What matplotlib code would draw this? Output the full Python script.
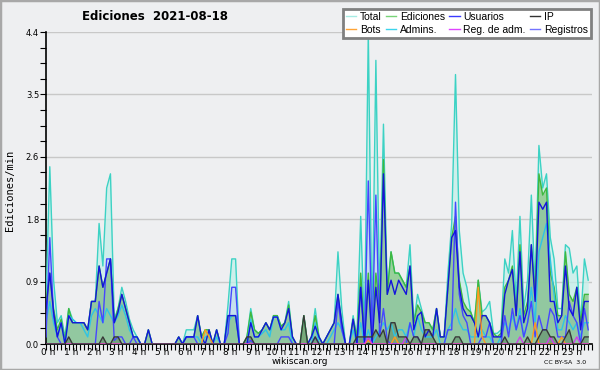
import matplotlib
matplotlib.use("Agg")
import matplotlib.pyplot as plt
import numpy as np
from matplotlib.lines import Line2D
from matplotlib.patches import Rectangle

# ---------------------------------------------------------------------------
# Data: edits per minute, 10-minute bins (6 per hour, 144 per day)
# ---------------------------------------------------------------------------
total = [
    0.6, 2.5, 0.9, 0.3, 0.4, 0.1,   0.5, 0.35, 0.3, 0.3, 0.3, 0.2,
    0.6, 0.6, 1.7, 1.1, 2.2, 2.4,   0.35, 0.5, 0.8, 0.6, 0.35, 0.2,
    0.1, 0, 0, 0.2, 0, 0,           0, 0, 0, 0, 0, 0.1,
    0, 0.2, 0.2, 0.2, 0.4, 0.1,     0.2, 0.2, 0, 0.2, 0, 0,
    0.55, 1.2, 1.2, 0, 0, 0.1,      0.5, 0.2, 0.15, 0.2, 0.3, 0.2,
    0.4, 0.4, 0.25, 0.3, 0.6, 0.1,  0, 0, 0.4, 0, 0.1, 0.5,
    0.1, 0, 0.1, 0.2, 0.3, 1.3,     0.5, 0, 0, 0.4, 0.1, 1.8,
    0.15, 4.4, 0.2, 4.0, 0.6, 3.1,  0.75, 1.3, 1.0, 1.0, 0.9, 0.8,
    1.4, 0.3, 0.7, 0.5, 0.3, 0.3,   0.2, 0.5, 0.1, 0.1, 1.0, 1.7,
    3.8, 1.6, 1.0, 0.8, 0.45, 0.3,  0.9, 0.45, 0.5, 0.6, 0.15, 0.15,
    0.2, 1.2, 1.0, 1.6, 0.6, 1.8,   0.5, 0.9, 2.1, 0.8, 2.8, 2.2,
    2.4, 1.5, 1.2, 0.5, 0.5, 1.4,   1.35, 1.0, 1.1, 0.3, 1.2, 0.9,
]
ediciones = [
    0.6, 1.0, 0.5, 0.2, 0.35, 0.05, 0.5, 0.3, 0.3, 0.3, 0.3, 0.2,
    0.6, 0.6, 1.1, 0.8, 1.0, 1.2,   0.3, 0.5, 0.7, 0.5, 0.3, 0.1,
    0.1, 0, 0, 0.2, 0, 0,           0, 0, 0, 0, 0, 0.1,
    0, 0.1, 0.1, 0.1, 0.4, 0.1,     0.2, 0.2, 0, 0.2, 0, 0,
    0.4, 0.4, 0.4, 0, 0, 0.1,       0.45, 0.2, 0.15, 0.2, 0.3, 0.2,
    0.4, 0.4, 0.25, 0.3, 0.55, 0.1, 0, 0, 0.4, 0, 0.1, 0.4,
    0.1, 0, 0.1, 0.2, 0.3, 0.7,     0.3, 0, 0, 0.35, 0.1, 1.0,
    0.1, 1.0, 0.1, 1.0, 0.5, 2.6,   0.7, 1.3, 1.0, 1.0, 0.9, 0.8,
    1.1, 0.3, 0.55, 0.45, 0.3, 0.3, 0.2, 0.5, 0.1, 0.1, 0.8, 1.5,
    1.8, 0.9, 0.6, 0.5, 0.45, 0.3,  0.9, 0.4, 0.4, 0.3, 0.15, 0.1,
    0.15, 0.8, 0.9, 1.1, 0.4, 1.4,  0.4, 0.6, 1.4, 0.7, 2.4, 2.1,
    2.2, 1.0, 0.8, 0.4, 0.4, 1.3,   0.7, 0.6, 0.8, 0.3, 0.7, 0.7,
]
usuarios = [
    0.5, 1.0, 0.45, 0.1, 0.3, 0,    0.4, 0.3, 0.3, 0.3, 0.3, 0.2,
    0.6, 0.6, 1.1, 0.8, 1.0, 1.2,   0.3, 0.45, 0.7, 0.5, 0.3, 0.1,
    0.1, 0, 0, 0.2, 0, 0,           0, 0, 0, 0, 0, 0.1,
    0, 0.1, 0.1, 0.1, 0.4, 0.1,     0, 0.2, 0, 0.2, 0, 0,
    0.4, 0.4, 0.4, 0, 0, 0,         0.3, 0.1, 0.1, 0.2, 0.3, 0.2,
    0.38, 0.38, 0.2, 0.3, 0.5, 0.1, 0, 0, 0, 0, 0.1, 0.25,
    0.1, 0, 0.1, 0.2, 0.3, 0.7,     0.3, 0, 0, 0.35, 0, 0.8,
    0, 0.9, 0, 0.8, 0.3, 2.4,       0.7, 0.9, 0.7, 0.9, 0.8, 0.7,
    1.1, 0.2, 0.4, 0.45, 0.1, 0.2,  0.1, 0.5, 0.1, 0.1, 0.8, 1.5,
    1.6, 0.8, 0.5, 0.4, 0.4, 0.3,   0.1, 0.4, 0.4, 0.3, 0.1, 0.1,
    0.1, 0.7, 0.9, 1.05, 0.4, 1.3,  0.3, 0.5, 1.4, 0.6, 2.0, 1.9,
    2.0, 0.6, 0.6, 0.3, 0.4, 1.1,   0.5, 0.4, 0.8, 0.2, 0.6, 0.6,
]
registros = [
    0.1, 1.5, 0.4, 0.1, 0, 0,       0, 0, 0, 0, 0, 0,
    0, 0, 0.6, 0.3, 1.2, 1.2,       0.05, 0.1, 0.1, 0, 0, 0.1,
    0, 0, 0, 0, 0, 0,               0, 0, 0, 0, 0, 0,
    0, 0.1, 0.1, 0.1, 0, 0,         0, 0, 0, 0, 0, 0,
    0.15, 0.8, 0.8, 0, 0, 0,        0.05, 0, 0, 0, 0, 0,
    0, 0, 0.1, 0.1, 0.1, 0,         0, 0, 0, 0, 0, 0.1,
    0, 0, 0, 0, 0, 0.6,             0.2, 0, 0, 0, 0, 0.8,
    0.05, 2.3, 0.1, 2.1, 0.1, 0.5,  0.05, 0, 0, 0, 0, 0,
    0.3, 0.1, 0.1, 0, 0, 0,         0, 0, 0, 0, 0.2, 0.2,
    2.0, 0.7, 0.4, 0.3, 0, 0,       0, 0.1, 0.1, 0.3, 0, 0,
    0, 0.4, 0.1, 0.5, 0.2, 0.4,     0.1, 0.3, 0.6, 0.1, 0.4, 0.2,
    0.2, 0.5, 0.4, 0.1, 0.1, 0.1,   0.6, 0.4, 0.3, 0, 0.5, 0.2,
]
admins = [
    0.3, 0.6, 0.3, 0.1, 0.3, 0,     0.4, 0.35, 0.3, 0.3, 0.2, 0.1,
    0.4, 0.5, 0.4, 0.3, 0.5, 0.4,   0.3, 0.4, 0.55, 0.4, 0.2, 0.1,
    0.1, 0, 0, 0, 0, 0,             0, 0, 0, 0, 0, 0,
    0, 0.1, 0.1, 0.1, 0.1, 0,       0.1, 0.1, 0, 0.1, 0, 0,
    0.3, 0.4, 0.4, 0, 0, 0,         0.35, 0.1, 0.1, 0.15, 0.2, 0.1,
    0.38, 0.38, 0.2, 0.2, 0.3, 0,   0, 0, 0, 0, 0, 0.3,
    0, 0, 0, 0.1, 0.2, 0.3,         0.2, 0, 0, 0.2, 0, 0.3,
    0, 0.2, 0, 0.1, 0.2, 0.3,       0.2, 0.3, 0.1, 0.2, 0.2, 0.1,
    0.3, 0.1, 0.4, 0.2, 0.1, 0.1,   0.1, 0.2, 0, 0, 0.2, 0.3,
    0.5, 0.3, 0.2, 0.2, 0.1, 0.1,   0.1, 0.2, 0.1, 0.1, 0, 0,
    0.1, 0.3, 0.2, 0.4, 0.2, 0.5,   0.1, 0.3, 0.8, 0.3, 1.3, 1.5,
    1.7, 1.2, 0.7, 0.2, 0.2, 0.4,   0.3, 0.2, 0.3, 0.1, 0.3, 0.3,
]
ip = [
    0, 0, 0, 0, 0, 0,               0.1, 0, 0, 0, 0, 0,
    0, 0, 0, 0.1, 0, 0,             0.1, 0.1, 0, 0, 0, 0,
    0, 0, 0, 0, 0, 0,               0, 0, 0, 0, 0, 0,
    0, 0, 0, 0, 0, 0,               0, 0, 0, 0, 0, 0,
    0, 0, 0, 0, 0, 0.1,             0.1, 0, 0, 0, 0, 0,
    0, 0, 0, 0, 0, 0,               0, 0, 0.4, 0, 0, 0.1,
    0, 0, 0, 0, 0, 0,               0, 0, 0, 0, 0.1, 0.1,
    0.1, 0.1, 0.1, 0.2, 0.1, 0.2,   0, 0.3, 0.3, 0.1, 0.1, 0.1,
    0, 0.1, 0.1, 0, 0.2, 0.2,       0.1, 0, 0, 0, 0, 0,
    0.1, 0.1, 0, 0, 0, 0,           0, 0, 0, 0, 0, 0,
    0, 0.1, 0, 0, 0, 0,             0, 0.1, 0, 0, 0.1, 0.2,
    0.2, 0.1, 0.1, 0, 0, 0.1,       0.2, 0, 0, 0, 0.1, 0.1,
]
bots = [
    0, 0, 0, 0, 0, 0,               0, 0, 0, 0, 0, 0,
    0, 0, 0, 0, 0, 0,               0, 0, 0, 0, 0, 0,
    0, 0, 0, 0, 0, 0,               0, 0, 0, 0, 0, 0,
    0, 0, 0, 0, 0, 0,               0.2, 0.1, 0, 0, 0, 0,
    0, 0, 0, 0, 0, 0,               0, 0, 0, 0, 0, 0,
    0, 0, 0, 0, 0, 0,               0, 0, 0, 0, 0, 0,
    0, 0, 0, 0, 0, 0,               0, 0, 0, 0, 0, 0,
    0, 0.05, 0, 0, 0, 0,            0, 0, 0.1, 0, 0, 0,
    0, 0, 0, 0, 0, 0,               0, 0, 0, 0, 0, 0,
    0, 0, 0, 0, 0, 0,               0.8, 0.1, 0, 0, 0, 0,
    0, 0, 0, 0, 0, 0,               0, 0, 0, 0.3, 0, 0,
    0, 0, 0, 0, 0.1, 0,             0, 0, 0, 0, 0, 0,
]
reg_adm = [
    0, 0, 0, 0, 0, 0,               0, 0, 0, 0, 0, 0,
    0, 0, 0, 0, 0, 0,               0, 0, 0, 0, 0, 0,
    0, 0, 0, 0, 0, 0,               0, 0, 0, 0, 0, 0,
    0, 0, 0, 0, 0, 0,               0, 0, 0, 0, 0, 0,
    0, 0, 0, 0, 0, 0,               0, 0, 0, 0, 0, 0,
    0, 0, 0, 0, 0, 0,               0, 0, 0, 0, 0, 0,
    0, 0, 0, 0, 0, 0,               0, 0, 0, 0, 0, 0,
    0, 0.1, 0, 0, 0, 0,             0, 0, 0, 0, 0, 0.1,
    0, 0, 0, 0, 0, 0,               0, 0, 0, 0, 0, 0,
    0, 0, 0, 0, 0, 0,               0, 0, 0, 0, 0, 0,
    0, 0, 0, 0, 0, 0.1,             0, 0, 0, 0, 0, 0,
    0, 0.1, 0, 0, 0, 0,             0, 0, 0.1, 0, 0, 0,
]

hour_labels = [f"{h} h" for h in range(24)]
y_max = 4.4

# ---------------------------------------------------------------------------
# Plot
# ---------------------------------------------------------------------------
BG = "#eeeff1"
fig = plt.figure(figsize=(6.0, 3.7), dpi=100, facecolor=BG)
ax = fig.add_axes([46 / 600, 26 / 370, 546 / 600, 312 / 370], facecolor=BG)

x = np.arange(len(total)) / 6.0

# areas
ax.fill_between(x, total, color="#c4f0ea", alpha=0.75, lw=0, zorder=1)
ax.fill_between(x, registros, color="#8c8cff", alpha=0.15, lw=0, zorder=2)
ax.fill_between(x, ediciones, color="#94cd92", alpha=0.9, lw=0, zorder=2)
ax.fill_between(x, usuarios, color="#5a8ad0", alpha=0.10, lw=0, zorder=3)
ax.fill_between(x, ip, color="#305030", alpha=0.30, lw=0, zorder=3)

# lines
lw = 1.0
ax.plot(x, total, color="#3cd2c4", lw=lw, zorder=4)
ax.plot(x, ediciones, color="#3fb83f", lw=lw, zorder=5)
ax.plot(x, admins, color="#2ec4e6", lw=lw, zorder=6)
ax.plot(x, registros, color="#4646ff", lw=lw, zorder=6)
ax.plot(x, usuarios, color="#1414dc", lw=lw, zorder=7)
ax.plot(x, bots, color="#ff9a1e", lw=lw, zorder=7)
ax.plot(x, reg_adm, color="#d23cf0", lw=lw, zorder=7)
ax.plot(x, ip, color="#383838", lw=lw, zorder=8)

ax.set_xlim(0, 24)
ax.set_ylim(0, y_max)

yt = np.linspace(0, y_max, 6)
ax.set_yticks(yt)
ax.set_yticklabels([f"{v:.1f}" for v in yt], fontsize=6)
ax.set_yticks(np.linspace(0, y_max, 21), minor=True)
ax.grid(axis="y", which="major", color="#c8c8c8", lw=1.0, zorder=0)
ax.set_axisbelow(True)

ax.set_xticks(np.arange(24) + 0.1)
ax.set_xticklabels(hour_labels, fontsize=6.5)
ax.set_xticks(np.arange(145) / 6.0, minor=True)
ax.tick_params(axis="x", which="major", length=0, pad=3)
ax.tick_params(axis="x", which="minor", length=4, width=0.8, direction="out")
ax.tick_params(axis="y", which="both", length=4, width=0.8, direction="out", pad=1)

for s in ("top", "right"):
    ax.spines[s].set_visible(False)
ax.spines["left"].set_linewidth(1.2)
ax.spines["bottom"].set_linewidth(1.2)

# texts
fig.text(155 / 600, 1 - 17 / 370, "Ediciones  2021-08-18", fontsize=8.5,
         fontweight="bold", ha="center", va="center")
fig.text(10 / 600, 1 - 190 / 370, "Ediciones/min", fontsize=7.5,
         family="DejaVu Sans Mono", rotation=90, ha="center", va="center")
fig.text(300 / 600, 1 - 361 / 370, "wikiscan.org", fontsize=6.5,
         ha="center", va="center")
fig.text(565 / 600, 1 - 362 / 370, "CC BY-SA  3.0", fontsize=4.5,
         ha="center", va="center")

# legend (column-wise fill: Total/Bots, Ediciones/Admins., ...)
handles = [
    Line2D([0], [0], color="#a6ece4", lw=1, label="Total"),
    Line2D([0], [0], color="#ffa436", lw=1, label="Bots"),
    Line2D([0], [0], color="#78d478", lw=1, label="Ediciones"),
    Line2D([0], [0], color="#3cd4ec", lw=1, label="Admins."),
    Line2D([0], [0], color="#3a3aff", lw=1, label="Usuarios"),
    Line2D([0], [0], color="#e044ff", lw=1, label="Reg. de adm."),
    Line2D([0], [0], color="#333333", lw=1, label="IP"),
    Line2D([0], [0], color="#7474ff", lw=1, label="Registros"),
]
leg = fig.legend(handles=handles, ncol=4, loc="upper right",
                 bbox_to_anchor=(591 / 600, 1 - 9 / 370),
                 prop={"family": "Liberation Sans", "size": 7.5},
                 frameon=True, fancybox=False, handlelength=1.0,
                 handletextpad=0.35, columnspacing=0.4, labelspacing=0.25,
                 borderpad=0.3, borderaxespad=0)
leg.get_frame().set_edgecolor("#808080")
leg.get_frame().set_linewidth(2.0)
leg.get_frame().set_facecolor("white")
leg.get_frame().set_alpha(1.0)

fig.patches.append(Rectangle((0, 0), 1, 1, transform=fig.transFigure,
                             fill=False, edgecolor="#a8a8a8", lw=2.5))

fig.savefig("out.png", dpi=100, facecolor=BG)
